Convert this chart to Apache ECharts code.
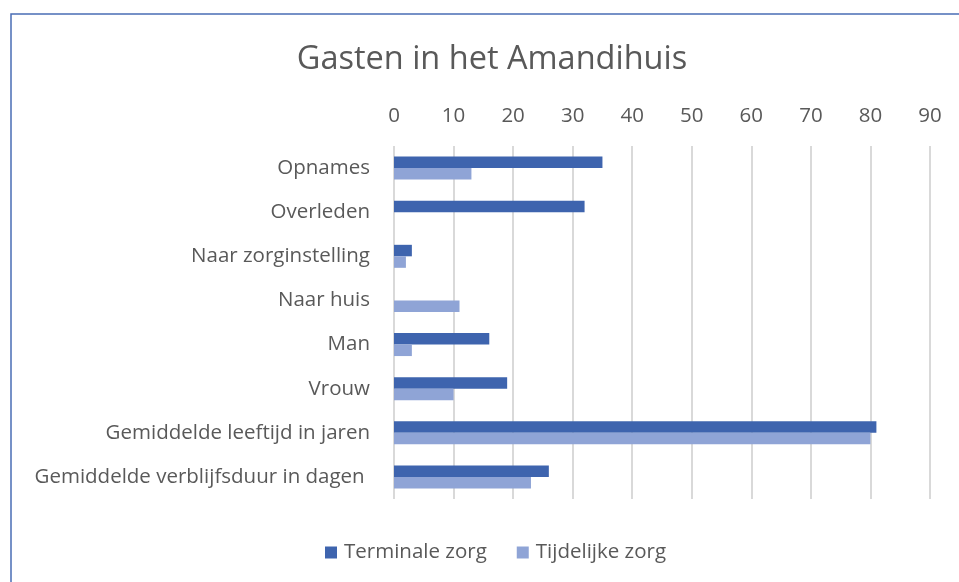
<!DOCTYPE html>
<html><head><meta charset="utf-8">
<script src="https://cdn.jsdelivr.net/npm/echarts@6/dist/echarts.min.js"></script>
<style>html,body{margin:0;padding:0;background:#fff}#c{width:959px;height:582px}</style>
</head><body><div id="c"></div>
<script>
const categories = ["Opnames","Overleden","Naar zorginstelling","Naar huis","Man","Vrouw","Gemiddelde leeftijd in jaren","Gemiddelde verblijfsduur in dagen "];
const terminaleZorg = [35,32,3,0,16,19,81,26];
const tijdelijkeZorg = [13,0,2,11,3,10,80,23];
const tickMin = 0, tickMax = 90, tickStep = 10;

const chart = echarts.init(document.getElementById('c'), null, {renderer:'canvas'});
const font = '"Open Sans", "Noto Sans", sans-serif';
chart.setOption({
  animation:false,
  backgroundColor:'#fff',
  graphic:[{type:'rect', shape:{x:11,y:14,width:1000,height:1000}, style:{fill:'none', stroke:'#4A6DB5', lineWidth:1.5}, silent:true}],
  title:{text:'Gasten in het Amandihuis', left:487, top:38, textAlign:'center',
    textStyle:{fontFamily:font, fontSize:32.5, fontWeight:'normal', color:'#595959'}},
  legend:{bottom:14, left:320, itemWidth:12, itemHeight:12, itemGap:30, icon:'rect',
    textStyle:{fontFamily:font, fontSize:20.5, color:'#595959', padding:[0,0,0,2]},
    data:['Terminale zorg','Tijdelijke zorg']},
  grid:{left:394, right:29, top:146, bottom:83, containLabel:false},
  xAxis:{type:'value', position:'top', min:tickMin, max:tickMax, interval:tickStep,
    axisLine:{show:false}, axisTick:{show:false},
    axisLabel:{fontFamily:font, fontSize:20.5, color:'#595959', margin:19},
    splitLine:{lineStyle:{color:'#D9D9D9', width:2}}},
  yAxis:{type:'category', inverse:true, data:categories,
    axisLine:{show:false}, axisTick:{show:false},
    axisLabel:{fontFamily:font, fontSize:20.5, color:'#595959', margin:24}},
  series:[
    {name:'Terminale zorg', type:'bar', data:terminaleZorg, barWidth:11.5, barGap:'0%',
      itemStyle:{color:'#3E64AE'}},
    {name:'Tijdelijke zorg', type:'bar', data:tijdelijkeZorg, barWidth:11.5, barGap:'0%',
      itemStyle:{color:'#8FA4D6'}}
  ]
});
</script></body></html>
